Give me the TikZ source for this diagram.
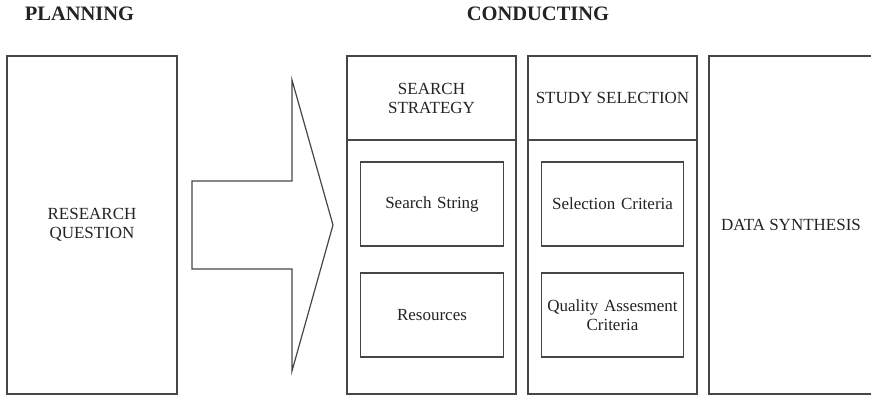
\documentclass[tikz,border=0pt]{standalone}
\usepackage{fontspec}
\setmainfont{Liberation Serif}
\usepackage{tikz}
\usetikzlibrary{positioning}
\definecolor{boxgray}{RGB}{70,70,70}
\definecolor{inkgray}{RGB}{35,35,35}

\begin{document}
\begin{tikzpicture}[
    x=1pt, y=-1pt,
    every node/.style={text=inkgray, outer sep=0pt},
    stage/.style={
        rectangle,
        minimum width=169pt, minimum height=338pt,
        draw=boxgray, line width=1.2pt
    },
    item/.style={
        rectangle,
        minimum width=140pt, minimum height=84pt,
        text centered, text width=136pt,
        draw=boxgray, line width=1.2pt,
        font=\fontsize{17}{19}\selectfont
    },
    label/.style={
        align=center,
        font=\fontsize{17}{19}\selectfont
    },
    phasehead/.style={font=\fontsize{20.5}{23}\selectfont\bfseries}
]
\useasboundingbox (0,0) rectangle (871,397);
\clip (0,0) rectangle (871,397);

% --- phase titles ---
\node[phasehead] (planning)   at (79.5,14) {PLANNING};
\node[phasehead] (conducting) at (538,14)  {CONDUCTING};

% --- planning box ---
\node[stage, minimum width=170pt] (question) at (92,225) {};
\node[label] at (question.center) {RESEARCH\\QUESTION};

% --- big hollow arrow ---
\coordinate (tail) at (192,225);
\draw[boxgray, line width=1.2pt]
    (tail) ++(0,-44) -- ++(100,0) -- (292,80) -- (333,225)
    -- (292,371) -- (292,269) -- (192,269) -- cycle;

% --- conducting columns ---
\node[stage] (strategy)  at (431.5,225) {};
\node[stage] (selection) at (612.5,225) {};
\node[stage] (synthesis) at (793.5,225) {};

\draw[boxgray, line width=1.2pt]
    ([yshift=-84pt]strategy.north west) -- ([yshift=-84pt]strategy.north east);
\draw[boxgray, line width=1.2pt]
    ([yshift=-84pt]selection.north west) -- ([yshift=-84pt]selection.north east);

\node[label] at ([yshift=-42pt]strategy.north)  {SEARCH\\STRATEGY};
\node[label] at ([yshift=-42pt]selection.north) {STUDY SELECTION};
\node[label] at (791,225) {DATA SYNTHESIS};

% --- items inside the columns ---
\node[item] (string)   at (432,204) {Search String};
\node[item, below=27pt of string] (resources) {Resources};

\node[item, minimum width=141pt] (criteria) at (612.5,204) {Selection Criteria};
\node[item, minimum width=141pt, below=27pt of criteria] (quality) {Quality Assesment\\Criteria};

\end{tikzpicture}
\end{document}
